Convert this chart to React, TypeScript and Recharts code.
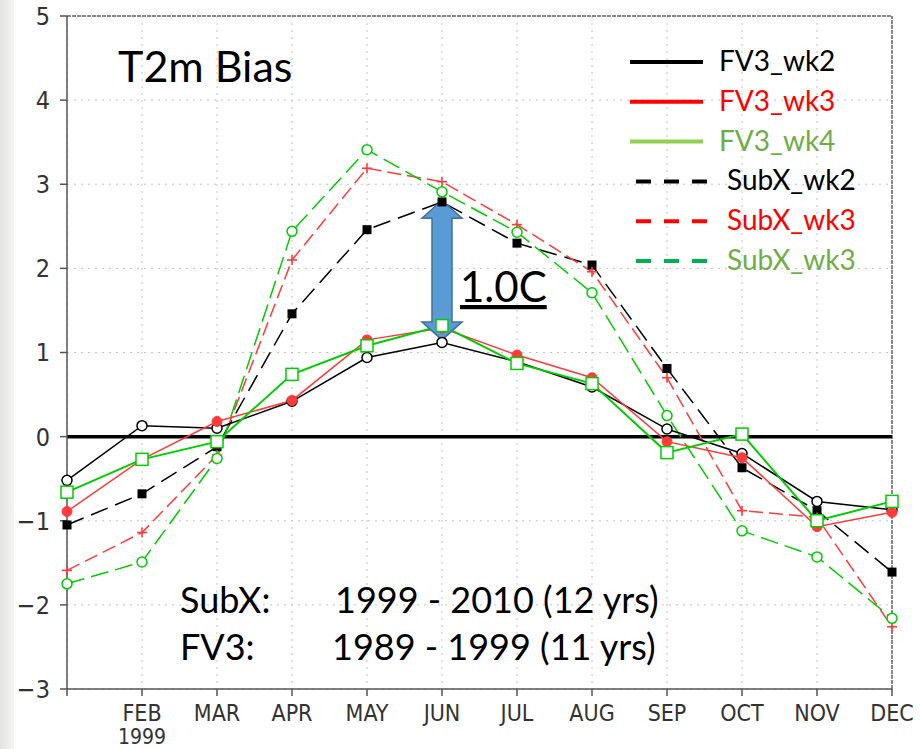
import React from 'react'
import { LineChart, Line, XAxis, YAxis, CartesianGrid, ReferenceLine } from 'recharts'

const months = ['JAN', 'FEB', 'MAR', 'APR', 'MAY', 'JUN', 'JUL', 'AUG', 'SEP', 'OCT', 'NOV', 'DEC']
const monthIdx = [0, 1, 2, 3, 4, 5, 6, 7, 8, 9, 10, 11]
const yTicks = [-3, -2, -1, 0, 1, 2, 3, 4, 5]

const fv3Wk2 = [-0.52, 0.13, 0.10, 0.42, 0.94, 1.12, 0.89, 0.59, 0.09, -0.20, -0.77, -0.87]
const fv3Wk3 = [-0.89, -0.27, 0.18, 0.43, 1.15, 1.29, 0.97, 0.70, -0.06, -0.25, -1.07, -0.90]
const fv3Wk4 = [-0.66, -0.27, -0.06, 0.74, 1.08, 1.32, 0.87, 0.63, -0.19, 0.03, -1.00, -0.77]
const subxWk2 = [-1.05, -0.68, -0.12, 1.46, 2.46, 2.79, 2.30, 2.04, 0.81, -0.37, -0.88, -1.61]
const subxWk3 = [-1.59, -1.14, -0.22, 2.10, 3.19, 3.03, 2.52, 1.96, 0.70, -0.88, -0.96, -2.26]
const subxWk4 = [-1.75, -1.49, -0.26, 2.44, 3.41, 2.91, 2.43, 1.71, 0.25, -1.12, -1.43, -2.16]

// arrow spans the gap at JUN between SubX_wk2 and the FV3 curves
const arrowMonth = 5
const arrowTop = 2.81
const arrowBottom = 1.15

const legendNames = ['FV3_wk2', 'FV3_wk3', 'FV3_wk4', 'SubX_wk2', 'SubX_wk3', 'SubX_wk3']
const legendLineColors = ['#000000', '#ff0000', '#92d050', '#000000', '#ff0000', '#00b050']
const legendTextColors = ['#000000', '#ff0000', '#70ad47', '#000000', '#ff0000', '#70ad47']
const legendDashed = [false, false, false, true, true, true]

const data = monthIdx.map(m => ({
    m,
    fv3Wk2: fv3Wk2[m],
    fv3Wk3: fv3Wk3[m],
    fv3Wk4: fv3Wk4[m],
    subxWk2: subxWk2[m],
    subxWk3: subxWk3[m],
    subxWk4: subxWk4[m],
}))

const RED = '#ff3b3b'
const GREEN = '#00cc00'
const AXIS_FONT = "'Liberation Sans Narrow', 'DejaVu Sans Condensed', 'Liberation Sans', sans-serif"

const openCircle = (color: string) => (p: any) => (
    <circle key={p.index} cx={p.cx} cy={p.cy} r={5} fill="#fff" stroke={color} strokeWidth={1.5} />
)
const filledCircle = (color: string) => (p: any) => (
    <circle key={p.index} cx={p.cx} cy={p.cy} r={5} fill={color} stroke={color} strokeWidth={1} />
)
const openSquare = (color: string) => (p: any) => (
    <rect key={p.index} x={p.cx - 6} y={p.cy - 6} width={12} height={12} fill="#fff" stroke={color} strokeWidth={1.5} />
)
const filledSquare = (color: string) => (p: any) => (
    <rect key={p.index} x={p.cx - 4.5} y={p.cy - 4.5} width={9} height={9} fill={color} />
)
const plus = (color: string) => (p: any) => (
    <g key={p.index} stroke={color} strokeWidth={1.6}>
        <line x1={p.cx - 5} y1={p.cy} x2={p.cx + 5} y2={p.cy} />
        <line x1={p.cx} y1={p.cy - 5} x2={p.cx} y2={p.cy + 5} />
    </g>
)

const MonthTick = (props: any) => {
    const { x, y, payload } = props
    const label = payload.value === 0 ? '' : months[payload.value]
    return (
        <g>
            <text x={x} y={y} dy={23} textAnchor="middle" fill="#333" fontSize={23} fontFamily={AXIS_FONT}>
                {label}
            </text>
            {payload.value === 1 && (
                <text x={x} y={y} dy={46} textAnchor="middle" fill="#333" fontSize={21} fontFamily={AXIS_FONT}>
                    1999
                </text>
            )}
        </g>
    )
}

const DoubleArrow = (p: any) => {
    const cx = p.x1
    const top = Math.min(p.y1, p.y2)
    const bot = Math.max(p.y1, p.y2)
    const hw = 20, bw = 10, hl = 18
    const pts = [
        [cx, top], [cx + hw, top + hl], [cx + bw, top + hl], [cx + bw, bot - hl], [cx + hw, bot - hl],
        [cx, bot], [cx - hw, bot - hl], [cx - bw, bot - hl], [cx - bw, top + hl], [cx - hw, top + hl],
    ].map(q => q.join(',')).join(' ')
    return <polygon points={pts} fill="#5b9bd5" stroke="#41719c" strokeWidth={1.5} />
}

export default function App() {
    const font = "Lato, 'Open Sans', sans-serif"
    return (
        <div style={{ position: 'absolute', left: 0, top: 0, width: 920, height: 749, background: '#fff', overflow: 'hidden' }}>
            <div style={{ position: 'absolute', left: 0, top: 0, width: 14, height: 749, background: 'linear-gradient(to right, #e4e4e2, #f4f4f3)' }} />
            <LineChart width={920} height={749} data={data} margin={{ top: 16, right: 28, left: 0, bottom: 0 }}>
                <CartesianGrid stroke="#c4c4c4" strokeDasharray="2 5" />
                <XAxis
                    dataKey="m"
                    type="number"
                    domain={[0, 11]}
                    ticks={monthIdx}
                    height={60}
                    tickSize={7}
                    stroke="#555"
                    strokeWidth={1.5}
                    tick={<MonthTick />}
                    interval={0}
                />
                <YAxis
                    type="number"
                    domain={[-3, 5]}
                    ticks={yTicks}
                    width={67}
                    tickSize={7}
                    tickMargin={10}
                    stroke="#555"
                    strokeWidth={1.5}
                    tickFormatter={(v: number) => (v < 0 ? '\u2212' + Math.abs(v) : String(v))}
                    tick={{ fill: '#333', fontSize: 25, fontFamily: AXIS_FONT }}
                    interval={0}
                />
                <ReferenceLine y={5} stroke="#666" strokeWidth={1.5} strokeDasharray="4 1" />
                <ReferenceLine x={11} stroke="#666" strokeWidth={1.5} strokeDasharray="4 1" />
                <ReferenceLine y={0} stroke="#000" strokeWidth={3.5} />

                <Line dataKey="subxWk2" stroke="#000" strokeWidth={1.5} strokeDasharray="18 8" dot={filledSquare('#000')} isAnimationActive={false} />
                <Line dataKey="subxWk3" stroke={RED} strokeWidth={1.5} strokeDasharray="14 6" dot={plus(RED)} isAnimationActive={false} />
                <Line dataKey="subxWk4" stroke={GREEN} strokeWidth={1.5} strokeDasharray="18 7" dot={openCircle(GREEN)} isAnimationActive={false} />
                <Line dataKey="fv3Wk2" stroke="#000" strokeWidth={1.5} dot={openCircle('#000')} isAnimationActive={false} />
                <Line dataKey="fv3Wk3" stroke={RED} strokeWidth={1.5} dot={filledCircle(RED)} isAnimationActive={false} />
                <Line dataKey="fv3Wk4" stroke={GREEN} strokeWidth={2} dot={openSquare(GREEN)} isAnimationActive={false} />

                <ReferenceLine
                    segment={[{ x: arrowMonth, y: arrowTop }, { x: arrowMonth, y: arrowBottom }]}
                    shape={DoubleArrow}
                />
            </LineChart>

            <svg width={920} height={749} style={{ position: 'absolute', left: 0, top: 0, pointerEvents: 'none' }}>
                <text x={118} y={82} fontSize={43} fontFamily={font} fill="#000">T2m Bias</text>
                <text x={460} y={302} fontSize={42} fontFamily={font} fill="#000" textDecoration="underline">1.0C</text>
                <text x={180} y={613} fontSize={36} fontFamily={font} fill="#000">SubX:</text>
                <text x={335} y={613} fontSize={36} fontFamily={font} fill="#000">1999 - 2010 (12 yrs)</text>
                <text x={180} y={660} fontSize={36} fontFamily={font} fill="#000">FV3:</text>
                <text x={332} y={660} fontSize={36} fontFamily={font} fill="#000">1989 - 1999 (11 yrs)</text>
                {legendNames.map((name, i) => {
                    const y = 62 + i * 39.8
                    const dashed = legendDashed[i]
                    return (
                        <g key={i}>
                            <line x1={dashed ? 636 : 630} x2={dashed ? 710 : 703} y1={y} y2={y}
                                stroke={legendLineColors[i]} strokeWidth={4}
                                strokeDasharray={dashed ? '15 13' : undefined} />
                            <text x={dashed ? 727 : 719} y={y + 9} fontSize={28} fontFamily={font} fill={legendTextColors[i]}>
                                {name}
                            </text>
                        </g>
                    )
                })}
            </svg>
        </div>
    )
}
